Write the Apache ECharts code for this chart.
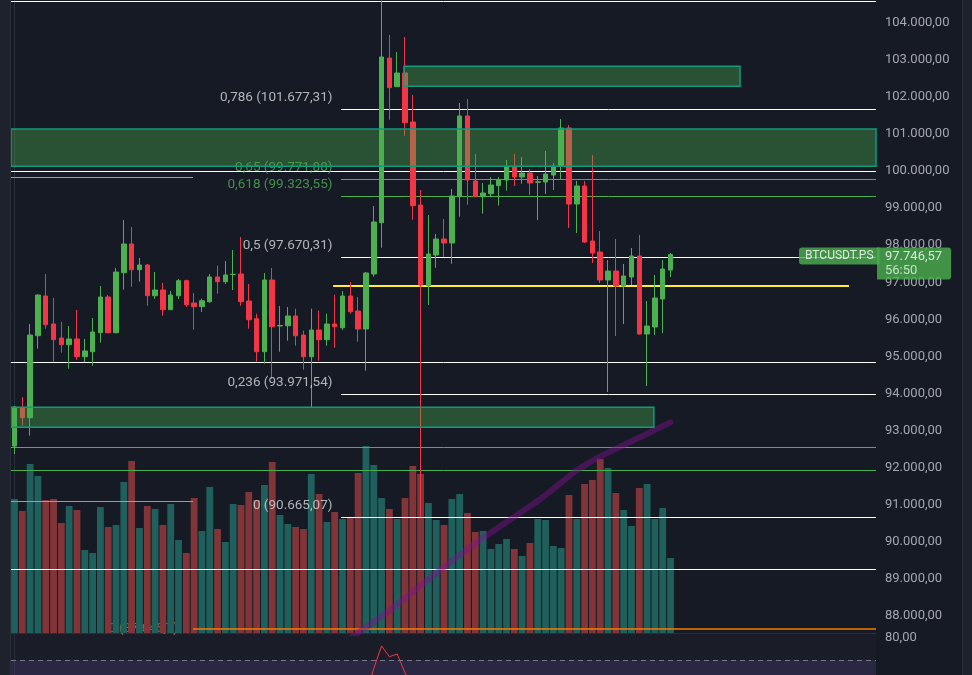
<!DOCTYPE html>
<html><head><meta charset="utf-8">
<script src="https://cdn.jsdelivr.net/npm/echarts@6/dist/echarts.min.js"></script>
<style>html,body{margin:0;padding:0;background:#161a25;}#c{width:972px;height:675px;}</style>
</head><body><div id="c"></div>
<script>
// ---- data ----
const opens = [92584,93617,93347,95558,96629,95874,95496,95316,95470,94992,
95127,95639,96602,95639,97258,98032,97338,97465,96637,96791,
96260,96637,97042,96440,96341,96475,97142,97015,97209,97222,
96494,96017,95127,97061,95820,95828,96090,95577,94992,95712,
95451,95874,95774,96629,96225,95739,97222,98606,103048,102274,
102643,101322,99083,96907,97735,98166,98059,99307,101484,99731,
99307,99388,99604,99758,100108,99838,99946,99695,99704,99892,
100135,101160,99110,99596,98112,97816,97061,97303,96899,97142,
97708,95604,95793,96548,97330];
const closes = [93636,93347,95577,96656,95855,95451,95316,95470,94992,95146,
95658,96602,95639,97276,98032,97338,97465,96637,96791,96260,
96656,97042,96395,96341,96502,97142,97015,97196,97215,96475,
95990,95127,97061,95801,95834,96090,95558,94992,95712,95451,
95874,95801,96629,96206,95739,97250,98625,103075,102247,102643,
101303,99064,96926,97762,98166,98059,99326,101484,99758,99307,
99407,99623,99758,100116,99838,99946,99677,99712,99919,100108,
101160,99110,99596,98086,97789,97061,97303,96899,97169,97708,
95604,95820,96575,97357,97746.57];
const lows = [92368,93131,92862,95208,95747,94849,95100,94668,94911,94849,
94749,95370,95625,95625,96799,96880,97015,96367,96556,96098,
96252,96548,96333,95720,96198,96448,96691,96953,96791,96367,
95747,94857,94803,94399,95127,95424,95289,94642,93636,94884,
95289,95235,95712,96150,95397,94615,97150,97932,101384,102274,
100952,98687,90665,96386,97392,97681,97500,98768,99091,99300,
98849,99307,99065,99469,99596,99658,99353,98679,99380,99488,
99758,98463,98328,98059,97519,96980,94040,95550,95874,96926,
95590,94202,95577,95631,97142];
const highs = [93663,93905,95874,96670,97222,96575,95928,95820,96252,95470,
96036,96899,96656,97384,98679,98490,97654,97492,97276,96980,
96764,97088,97069,96710,96556,97222,97446,97573,97870,98220,
96953,96152,97250,97384,96360,96333,96287,95693,96287,96233,
96152,96664,96764,97007,96602,97277,99056,104600,103668,103210,
103614,102050,99488,98814,98301,98706,99515,101834,101942,100459,
99677,99838,99838,100297,100459,100378,100054,99865,100540,100216,
101403,101241,99731,99731,100432,98382,97600,98166,97492,97924,
98274,96494,97196,97600,97790];
const volumes = [134,122,169,157,133,134,110,127,123,83,
80,126,106,108,151,172,105,127,124,108,
129,93,80,135,102,146,104,91,129,128,
141,133,148,171,118,109,106,104,159,139,
111,121,114,116,160,187,168,135,124,114,
135,167,159,130,113,108,134,139,120,101,
102,84,89,94,84,77,90,114,113,87,
85,138,114,149,153,174,165,140,123,107,
145,149,114,125,75];
const maStart = 43;
const maValues = [87400,87545,87696,87846,87997,88146,88313,88482,88651,88820,
88989,89156,89320,89479,89638,89797,89955,90106,90248,90390,
90532,90674,90818,90962,91106,91260,91429,91598,91767,91933,
92057,92181,92301,92404,92507,92610,92712,92814,92916,93018,
93120,93222];
const rsiStart = 44;
const rsiValues = [45,54.8,66.1,76.4,71.5,72.7,64.2,58];
const priceTicks = [88000,89000,90000,91000,92000,93000,94000,95000,96000,
97000,98000,99000,100000,101000,102000,103000,104000];
const fibRatios = ['0,786','0,65','0,618','0,5','0,236','0'];
const fibValues = [101677.31,99771.88,99323.55,97670.31,93971.54,90665.07];
const whiteLevels = [104585,100000,94841,89259];
const greenLevels = [92549,91929];
const orangeShortLevels = [99831,91093];
const orangeZero = 87645.7;
const yellowLevel = 96899;
const zones = [[101133,100127],[102824,102285],[93627,93088]];
const lastPrice = 97746.57;
const symbolName = 'BTCUSDT.PS';
const countdown = '56:50';

// ---- layout / style ----
const X_MIN = -0.448, X_MAX = 110.31;
const FIB_START = 41.8, FIB_LABEL_X = 40.78;
const ORANGE_SPLIT = 22.86;
const YELLOW_START = 40.8, YELLOW_END = 106.85;
const ZONE_X = [[X_MIN, X_MAX],[49.87, 92.9],[X_MIN, 81.87]];
const fibColors = ['#ffffff','#4caf50','#4caf50','#ffffff','#ffffff','#ffffff'];
const fibTextColors = ['#d8d9dd','#4caf50','#4caf50','#d8d9dd','#d8d9dd','#d8d9dd'];
const FONT = 'Roboto, "Noto Sans", sans-serif';

function fmt(v, d){
  if (d === undefined) d = 2;
  const s = v.toFixed(d).split('.');
  const i = s[0].replace(/\B(?=(\d{3})+(?!\d))/g, '.');
  return s[1] ? i + ',' + s[1] : i;
}

const chart = echarts.init(document.getElementById('c'), null, {renderer:'canvas'});

function hLine(x0, x1, v, color, width){
  return [{coord:[x0, v], lineStyle:{color:color, width:width||1, type:'solid'}}, {coord:[x1, v]}];
}
const lineData = [];
whiteLevels.forEach(v => lineData.push(hLine(X_MIN, X_MAX, v, '#ffffff', 1)));
greenLevels.forEach(v => lineData.push(hLine(X_MIN, X_MAX, v, '#4caf50', 1)));
fibValues.forEach((v,i) => lineData.push(hLine(FIB_START, X_MAX, v, fibColors[i], 1)));
orangeShortLevels.forEach(v => lineData.push(hLine(X_MIN, ORANGE_SPLIT, v, '#ef8a2c', 1)));
lineData.push(hLine(ORANGE_SPLIT, X_MAX, orangeZero, '#f57c00', 1.5));
lineData.push(hLine(YELLOW_START, YELLOW_END, yellowLevel, '#ffeb3b', 2.2));

const zoneData = zones.map((z,i) => [{coord:[ZONE_X[i][0], z[0]]},{coord:[ZONE_X[i][1], z[1]]}]);

const option = {
  backgroundColor:'#161a25',
  animation:false,
  textStyle:{fontFamily:FONT},
  grid:[
    {left:11, right:96, top:0, height:633, show:false, outerBoundsMode:'none', containLabel:false},
    {left:11, right:96, top:633, height:181, show:true, backgroundColor:'#1a1d28', borderWidth:0,
     outerBoundsMode:'none', containLabel:false}
  ],
  xAxis:[
    {type:'value', gridIndex:0, min:X_MIN, max:X_MAX, show:false},
    {type:'value', gridIndex:1, min:X_MIN, max:X_MAX, position:'top',
     axisLine:{show:true, onZero:false, lineStyle:{color:'#2a2e39'}}, axisTick:{show:false}, axisLabel:{show:false}, splitLine:{show:false}}
  ],
  yAxis:[
    {type:'value', gridIndex:0, position:'right', min:87541, max:104612, scale:true,
     axisLine:{show:true, lineStyle:{color:'#2a2e39'}}, axisTick:{show:false}, splitLine:{show:false},
     axisLabel:{customValues:priceTicks, align:'left', margin:9, color:'#a3a6af', fontSize:13, fontFamily:FONT,
       formatter:v => (Math.abs(v % 1000) < 1e-6 ? fmt(v) : '')}},
    {type:'value', gridIndex:0, min:0, max:633, show:false},
    {type:'value', gridIndex:1, position:'right', min:0, max:82.27, interval:10,
     axisLine:{show:true, lineStyle:{color:'#2a2e39'}}, axisTick:{show:false}, splitLine:{show:false},
     axisLabel:{customValues:[80], align:'left', margin:9, color:'#a3a6af', fontSize:13, fontFamily:FONT,
       formatter:v => (v === 80 ? fmt(v) : '')}}
  ],
  series:[
    {type:'scatter', name:'orangeLabel', xAxisIndex:0, yAxisIndex:0, z:1, silent:true,
     symbolSize:1, itemStyle:{color:'rgba(0,0,0,0)'},
     data:[[ORANGE_SPLIT - 1.9, orangeZero]],
     label:{show:true, position:[0,0], align:'right', verticalAlign:'middle', color:'#e08a2a', fontSize:13,
       formatter:() => '0 (' + fmt(orangeZero,1) + ')'}},
    {type:'bar', name:'volume', xAxisIndex:0, yAxisIndex:1, z:2, barWidth:6.8, silent:true,
     data: volumes.map((v,i) => ({value:[i, v], itemStyle:{color: closes[i] >= opens[i] ? '#1f5f5c' : '#813539'}}))},
    {type:'scatter', name:'levels', xAxisIndex:0, yAxisIndex:0, z:3, data:[], silent:true,
     markLine:{z:3, silent:true, symbol:['none','none'], label:{show:false}, animation:false, data:lineData}},
    {type:'line', name:'ma', xAxisIndex:0, yAxisIndex:0, z:3, smooth:true, symbol:'none', silent:true, clip:true,
     lineStyle:{width:6, color:'rgba(126,16,141,0.45)', cap:'round'},
     data: maValues.map((v,i) => [maStart + i, v])},
    {type:'candlestick', name:'BTCUSDT', xAxisIndex:0, yAxisIndex:0, z:4, barWidth:5, silent:true,
     encode:{x:0, y:[1,2,3,4]},
     itemStyle:{color:'#4caf50', color0:'#f23645', borderColor:'#4caf50', borderColor0:'#f23645', borderWidth:1},
     data: opens.map((o,i) => [i, o, closes[i], lows[i], highs[i]])},
    {type:'scatter', name:'fibLabels', xAxisIndex:0, yAxisIndex:0, z:4, silent:true,
     symbolSize:1, itemStyle:{color:'rgba(0,0,0,0)'},
     data: fibValues.map((v,i) => ({value:[FIB_LABEL_X, v], label:{color:fibTextColors[i]}})),
     label:{show:true, position:[0,-11], align:'right', verticalAlign:'middle', fontSize:13.5, fontFamily:FONT,
       formatter:p => fibRatios[p.dataIndex] + ' (' + fmt(fibValues[p.dataIndex]) + ')'}},
    {type:'scatter', name:'zones', xAxisIndex:0, yAxisIndex:0, z:5, data:[], silent:true,
     markArea:{z:5, silent:true, label:{show:false},
       itemStyle:{color:'rgba(76,175,80,0.37)', borderColor:'#119a7c', borderWidth:1.5},
       data:zoneData}},
    {type:'scatter', name:'tags', xAxisIndex:0, yAxisIndex:0, z:6, silent:true, clip:false,
     symbolSize:1, itemStyle:{color:'rgba(0,0,0,0)'},
     data:[
       {value:[X_MAX, lastPrice], label:{show:true, position:[4,-6.5], align:'right', verticalAlign:'top',
          backgroundColor:'#4caf50', color:'#ffffff', fontSize:12, lineHeight:15, padding:[1,6,1,6],
          borderRadius:[3,0,0,3], formatter:() => symbolName}},
       {value:[X_MAX, lastPrice], label:{show:true, position:[1.5,-6.5], align:'left', verticalAlign:'top',
          backgroundColor:'#4caf50', padding:[2,9,2,8], borderRadius:[0,3,3,0],
          formatter:() => '{a|' + fmt(lastPrice) + '}\n{b|' + countdown + '}',
          rich:{a:{color:'#ffffff', fontSize:13, lineHeight:14, fontFamily:FONT},
                b:{color:'#e6f2e6', fontSize:13, lineHeight:14, fontFamily:FONT}}}}
     ]},
    {type:'line', name:'rsi', xAxisIndex:1, yAxisIndex:2, z:3, symbol:'none', silent:true,
     lineStyle:{width:1, color:'#f23645'},
     data: rsiValues.map((v,i) => [rsiStart + i, v]),
     markArea:{silent:true, itemStyle:{color:'rgba(126,87,194,0.17)'}, data:[[{yAxis:70},{yAxis:30}]]},
     markLine:{silent:true, symbol:['none','none'], label:{show:false},
       lineStyle:{color:'#787b86', type:[5,4], width:1}, data:[{yAxis:70}]}}
  ],
  graphic:[
    {type:'rect', left:0, top:0, shape:{width:10, height:675}, style:{fill:'#1e222d'}, z:10},
    {type:'line', shape:{x1:10.5, y1:0, x2:10.5, y2:675}, style:{stroke:'#2a2e39', lineWidth:1}, z:10},
    {type:'rect', left:962, top:0, shape:{width:10, height:675}, style:{fill:'#1e222d'}, z:10},
    {type:'line', shape:{x1:962.5, y1:0, x2:962.5, y2:675}, style:{stroke:'#2a2e39', lineWidth:1}, z:10}
  ]
};
chart.setOption(option);
</script>
</body></html>
